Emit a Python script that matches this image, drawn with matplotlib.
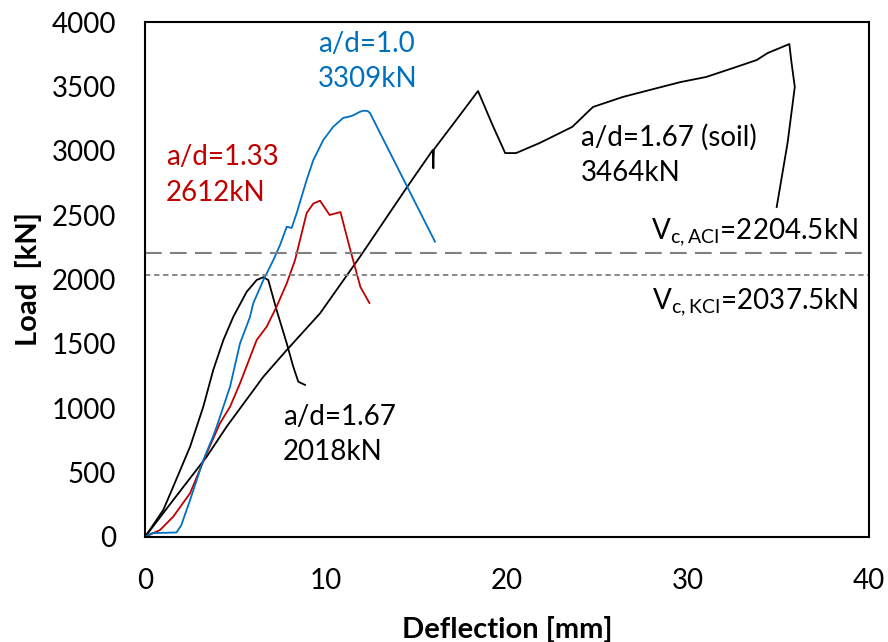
import matplotlib.pyplot as plt

plt.rcParams['font.family'] = ['Lato', 'DejaVu Sans']

# a/d=1.0 (blue)
ad10_x = [0, 0.4, 1.0, 1.74, 2.0, 2.49, 3.04, 3.22, 3.76, 3.96, 4.7, 5.25, 5.8, 5.98,
          6.54, 7.09, 7.46, 7.83, 8.1, 8.38, 8.93, 9.3, 9.85, 10.4, 10.95, 11.42,
          11.88, 12.06, 12.3, 12.43, 16.02]
ad10_y = [0, 30, 32, 35, 90, 287, 520, 598, 780, 857, 1168, 1504, 1709, 1815,
          1996, 2151, 2268, 2410, 2400, 2516, 2773, 2928, 3083, 3187, 3255, 3270,
          3303, 3311, 3309, 3293, 2294]

# a/d=1.33 (red)
ad133_x = [0, 0.83, 1.56, 2.49, 3.41, 4.14, 4.7, 5.25, 6.17, 6.72, 7.27, 7.83, 8.29,
           8.93, 9.3, 9.67, 10.2, 10.8, 11.3, 11.9, 12.4]
ad133_y = [0, 54, 158, 340, 650, 883, 1012, 1194, 1530, 1633, 1789, 1970, 2151,
           2516, 2590, 2612, 2501, 2524, 2252, 1942, 1817]

# a/d=1.67 (black, peak 2018kN)
ad167_x = [0, 1.01, 1.56, 2.49, 3.22, 3.77, 4.33, 4.88, 5.62, 6.17, 6.54, 6.81,
           7.27, 7.83, 8.19, 8.47, 8.84]
ad167_y = [0, 210, 391, 701, 1012, 1297, 1530, 1711, 1905, 1996, 2018, 1996,
           1763, 1504, 1323, 1206, 1181]

# a/d=1.67 soil (black, peak 3464kN)
soil_x = [0, 1.56, 3.41, 4.51, 6.54, 7.83, 9.67, 11.88, 14.45, 15.9, 15.93, 15.96,
          17.2, 18.4, 19.2, 19.9, 20.5, 21.8, 23.6, 24.75, 26.4, 28.3, 29.6, 31.0,
          32.5, 33.8, 34.4, 35.6, 35.7, 35.9, 35.5, 34.9]
soil_y = [0, 287, 624, 857, 1245, 1452, 1737, 2177, 2712, 3006, 2864, 3010,
          3240, 3464, 3200, 2982, 2982, 3060, 3185, 3340, 3418, 3487, 3534, 3573,
          3643, 3705, 3759, 3829, 3705, 3495, 3060, 2563]

vc_aci = 2204.5
vc_kci = 2037.5

fig, ax = plt.subplots(figsize=(8.88, 6.42), dpi=100)
fig.subplots_adjust(left=0.1633, right=0.9786, bottom=0.1636, top=0.9657)

ax.plot(soil_x, soil_y, color='black', lw=1.3)
ax.plot(ad167_x, ad167_y, color='black', lw=1.3)
ax.plot(ad133_x, ad133_y, color='#C00000', lw=1.3)
ax.plot(ad10_x, ad10_y, color='#0070C0', lw=1.3)

ax.axhline(vc_aci, color='#808080', lw=1.5, dashes=(8, 4))
ax.axhline(vc_kci, color='#808080', lw=1.3, dashes=(3, 2))

ax.set_xlim(0, 40)
ax.set_ylim(0, 4000)
ax.set_xticks([0, 10, 20, 30, 40])
ax.set_yticks(range(0, 4001, 500))
ax.tick_params(length=0, labelsize=20)
ax.tick_params(axis='x', pad=22)
ax.tick_params(axis='y', pad=21)
for s in ax.spines.values():
    s.set_linewidth(1.5)

ax.set_xlabel('Deflection [mm]', fontsize=21, fontweight='bold', labelpad=16)
ax.set_ylabel('Load  [kN]', fontsize=21, fontweight='bold', labelpad=7)

fs = 20
ls = 1.45
ax.text(9.56, 3930, 'a/d=1.0\n3309kN', color='#0070C0', fontsize=fs,
        linespacing=ls, va='top')
ax.text(1.16, 3050, 'a/d=1.33\n2612kN', color='#C00000', fontsize=fs,
        linespacing=ls, va='top')
ax.text(24.1, 3210, 'a/d=1.67 (soil)\n3464kN', color='black', fontsize=fs,
        linespacing=ls, va='top')
ax.text(7.62, 1035, 'a/d=1.67\n2018kN', color='black', fontsize=fs,
        linespacing=ls, va='top')
ax.text(39.4, 2307, r'V$_{\mathregular{c,ACI}}$=2204.5kN', ha='right',
        va='baseline', fontsize=fs)
ax.text(39.4, 1763, r'V$_{\mathregular{c,KCI}}$=2037.5kN', ha='right',
        va='baseline', fontsize=fs)

fig.savefig('out.png', dpi=100)
